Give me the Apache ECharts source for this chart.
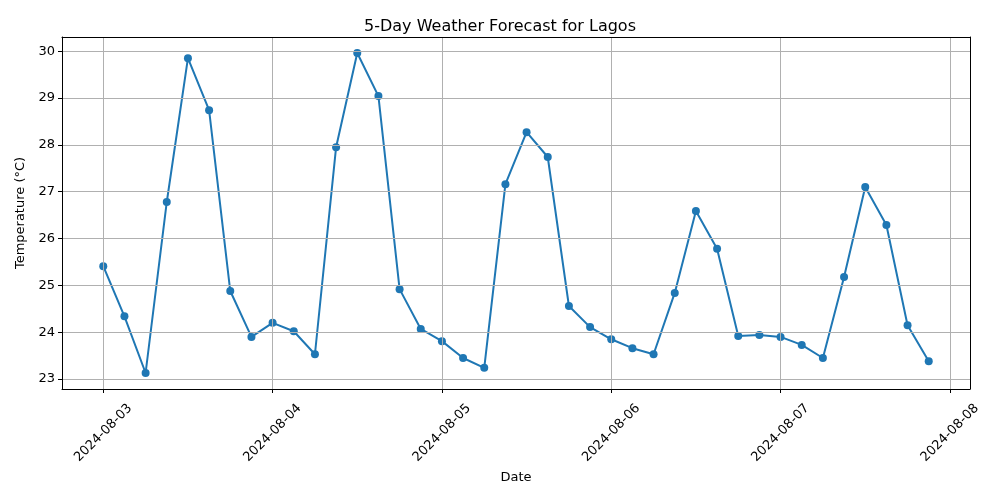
<!DOCTYPE html>
<html>
<head>
<meta charset="utf-8">
<script src="https://cdn.jsdelivr.net/npm/echarts@6/dist/echarts.min.js"></script>
<style>html,body{margin:0;padding:0;background:#fff}#c{width:1000px;height:500px}</style>
</head>
<body>
<div id="c"></div>
<script>
const startDate = [2024, 7, 3];
const stepHours = 3;
const temperatures = [
  25.41, 24.34, 23.13, 26.78, 29.85, 28.74, 24.88, 23.90,
  24.20, 24.02, 23.53, 27.95, 29.96, 29.04, 24.92, 24.07,
  23.81, 23.45, 23.24, 27.16, 28.27, 27.74, 24.56, 24.11,
  23.85, 23.66, 23.53, 24.84, 26.59, 25.78, 23.92, 23.94,
  23.90, 23.73, 23.45, 25.18, 27.10, 26.29, 24.15, 23.38
];
const titleText = '5-Day Weather Forecast for Lagos';
const xName = 'Date';
const yName = 'Temperature (°C)';

const t0 = new Date(startDate[0], startDate[1], startDate[2], 0, 0, 0).getTime();
const data = temperatures.map((v, i) => [t0 + i * stepHours * 3600000, v]);
const tMin = data[0][0], tMax = data[data.length - 1][0];
const span = tMax - tMin;
const vMin = Math.min(...temperatures), vMax = Math.max(...temperatures);
const vSpan = vMax - vMin;
const xLo = tMin - span * 0.05, xHi = tMax + span * 0.05;
const yLo = vMin - vSpan * 0.05, yHi = vMax + vSpan * 0.05;

function pad(n){return (n<10?'0':'')+n;}
const font = 'DejaVu Sans';
const frameAxis = {show: true, lineStyle: {color: '#000', width: 1}};
const chart = echarts.init(document.getElementById('c'), null, {renderer: 'canvas'});
chart.setOption({
  animation: false,
  backgroundColor: '#fff',
  title: {
    text: titleText, left: 'center', top: 14,
    textStyle: {fontFamily: font, fontSize: 16, fontWeight: 'normal', color: '#000'}
  },
  grid: {left: 62, right: 30, top: 37, bottom: 111},
  xAxis: [{
    type: 'time',
    min: xLo, max: xHi,
    minInterval: 86400000,
    maxInterval: 86400000,
    name: xName, nameLocation: 'middle', nameGap: 82,
    nameTextStyle: {fontFamily: font, fontSize: 13, color: '#000'},
    axisLine: frameAxis,
    axisTick: {show: true, length: 4, lineStyle: {color: '#000'}},
    splitLine: {show: true, lineStyle: {color: '#b0b0b0', width: 1}},
    axisLabel: {
      rotate: 45, align: 'center', verticalAlign: 'middle', margin: 44,
      fontFamily: font, fontSize: 13, color: '#000',
      showMinLabel: false, showMaxLabel: false, hideOverlap: false,
      formatter: function (v) { const d = new Date(v); return d.getFullYear() + '-' + pad(d.getMonth()+1) + '-' + pad(d.getDate()); }
    },
    z: 5
  }, {
    type: 'time', position: 'top', min: xLo, max: xHi,
    axisLine: frameAxis, axisTick: {show: false}, axisLabel: {show: false}, splitLine: {show: false}, z: 5
  }],
  yAxis: [{
    type: 'value',
    min: yLo, max: yHi,
    splitNumber: 7,
    name: yName, nameLocation: 'middle', nameGap: 35,
    nameTextStyle: {fontFamily: font, fontSize: 13, color: '#000'},
    axisLine: frameAxis,
    axisTick: {show: true, length: 4, lineStyle: {color: '#000'}},
    splitLine: {show: true, lineStyle: {color: '#b0b0b0', width: 1}},
    axisLabel: {
      margin: 7, fontFamily: font, fontSize: 13, color: '#000',
      showMinLabel: false, showMaxLabel: false,
      formatter: function (v) { return Math.abs(v - Math.round(v)) < 1e-6 ? String(Math.round(v)) : ''; }
    },
    z: 5
  }, {
    type: 'value', position: 'right', min: yLo, max: yHi,
    axisLine: frameAxis, axisTick: {show: false}, axisLabel: {show: false}, splitLine: {show: false}, z: 5
  }],
  series: [{
    type: 'line',
    data: data,
    symbol: 'circle',
    symbolSize: 8,
    showSymbol: true,
    lineStyle: {color: '#1f77b4', width: 2},
    itemStyle: {color: '#1f77b4'}
  }]
});
</script>
</body>
</html>
